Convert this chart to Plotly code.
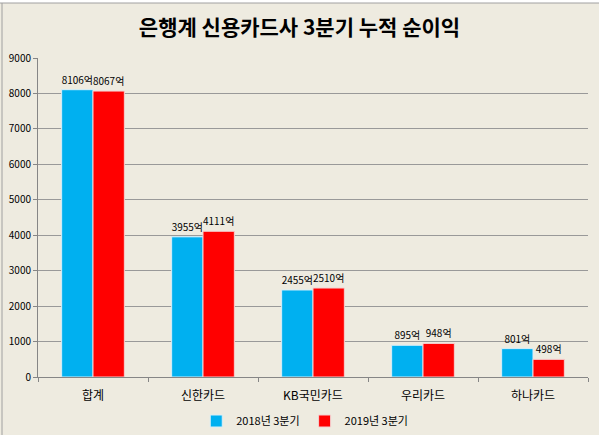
import plotly.graph_objects as go

categories = ['합계', '신한카드', 'KB국민카드', '우리카드', '하나카드']
q3_2018 = [8106, 3955, 2455, 895, 801]
q3_2019 = [8067, 4111, 2510, 948, 498]
series_names = ['2018년 3분기', '2019년 3분기']
y_ticks = [0, 1000, 2000, 3000, 4000, 5000, 6000, 7000, 8000, 9000]

bg = '#EEEBE0'
kfont = 'Noto Sans CJK KR, Dotum, sans-serif'

fig = go.Figure()
fig.add_trace(go.Bar(
    x=categories, y=q3_2018, name=series_names[0],
    marker=dict(color='#00B0F0', line=dict(color='#D8EEF8', width=1)),
    text=[f'{v}억' for v in q3_2018], textposition='outside',
    textfont=dict(size=10, color='black'), cliponaxis=False))
fig.add_trace(go.Bar(
    x=categories, y=q3_2019, name=series_names[1],
    marker=dict(color='#FF0000', line=dict(color='#F5D0D0', width=1)),
    text=[f'{v}억' for v in q3_2019], textposition='outside',
    textfont=dict(size=10, color='black'), cliponaxis=False))

fig.update_layout(
    width=599, height=435,
    margin=dict(l=38, r=11, t=58, b=58, autoexpand=False),
    paper_bgcolor=bg, plot_bgcolor=bg,
    font=dict(family=kfont, size=11, color='black'),
    title=dict(text='<b>은행계 신용카드사 3분기 누적 순이익</b>', x=0.5, xanchor='center',
               yref='container', y=1 - 28 / 435, yanchor='middle',
               font=dict(size=21, color='black')),
    barmode='group', bargap=0.43, bargroupgap=0,
    uniformtext=dict(minsize=9, mode='show'),
    legend=dict(orientation='h', x=0.485, xanchor='center',
                yref='container', y=1 - 421 / 435, yanchor='middle',
                font=dict(size=11), bgcolor='rgba(0,0,0,0)', itemwidth=30),
    xaxis=dict(showline=True, linecolor='#868686', linewidth=1, ticks='outside',
               tickson='boundaries', ticklen=4, tickcolor='#868686',
               tickfont=dict(size=12), showgrid=False, automargin=False,
               ticklabelstandoff=8),
    yaxis=dict(range=[0, 9000], tickvals=y_ticks, showline=True, linecolor='#868686',
               linewidth=1, ticks='outside', ticklen=4, tickcolor='#868686',
               gridcolor='#999999', gridwidth=1, tickfont=dict(size=10),
               zeroline=False, automargin=False),
    shapes=[
        # spreadsheet strip above the chart and chart frame edges
        dict(type='rect', xref='paper', yref='paper', x0=-38 / 550, x1=561 / 550,
             y0=1 + 55 / 319, y1=1 + 58 / 319, fillcolor='white', line_width=0, layer='below'),
        dict(type='line', xref='paper', yref='paper', x0=-38 / 550, x1=561 / 550,
             y0=1 + 55 / 319, y1=1 + 55 / 319, line=dict(color='#A0A0A0', width=1)),
        dict(type='line', xref='paper', yref='paper', x0=-36 / 550, x1=-36 / 550,
             y0=-58 / 319, y1=1 + 55 / 319, line=dict(color='#A0A0A0', width=1)),
    ],
)

fig.write_html('out.html', config={'displayModeBar': False},
               post_script="document.body.style.margin='0';")
